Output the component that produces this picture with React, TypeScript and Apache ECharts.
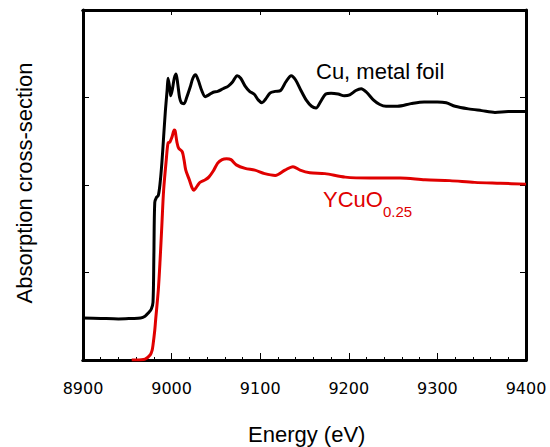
import React, { useEffect, useRef } from "react";
import * as echarts from "echarts";

const xTicks = [8900, 9000, 9100, 9200, 9300, 9400];

const cuEnergy = [8900, 8920, 8940, 8955, 8965, 8970, 8974, 8977, 8979, 8980, 8981, 8983, 8985, 8987, 8989, 8991, 8993, 8995, 8996, 8998, 8999, 9001, 9003, 9005, 9007, 9009, 9011, 9014, 9017, 9021, 9024, 9027, 9030, 9034, 9038, 9042, 9047, 9052, 9058, 9064, 9069, 9074, 9078, 9083, 9088, 9093, 9098, 9102, 9106, 9111, 9117, 9123, 9129, 9135, 9140, 9146, 9152, 9158, 9163, 9168, 9174, 9180, 9188, 9195, 9201, 9208, 9214, 9220, 9228, 9235, 9242, 9255, 9270, 9285, 9300, 9310, 9320, 9335, 9350, 9365, 9380, 9400];
const cuValue = [0.48, 0.475, 0.47, 0.475, 0.48, 0.5, 0.54, 0.58, 0.66, 1.2, 1.8, 1.86, 1.88, 2.02, 2.25, 2.55, 2.85, 3.09, 3.22, 3.1, 3.02, 3.1, 3.22, 3.27, 3.15, 3.0, 2.94, 2.93, 3.0, 3.12, 3.22, 3.26, 3.2, 3.08, 3.01, 3.03, 3.06, 3.07, 3.1, 3.13, 3.18, 3.25, 3.22, 3.13, 3.07, 3.04, 2.97, 2.94, 2.98, 3.05, 3.07, 3.08, 3.18, 3.25, 3.2, 3.08, 2.97, 2.9, 2.88, 2.95, 3.04, 3.05, 3.04, 3.02, 3.03, 3.08, 3.1, 3.06, 2.97, 2.92, 2.9, 2.9, 2.93, 2.95, 2.95, 2.94, 2.9, 2.87, 2.85, 2.83, 2.84, 2.84];

const ycuoEnergy = [8955, 8960, 8970, 8976, 8978, 8979, 8981, 8982, 8985, 8987, 8989, 8991, 8994, 8996, 8998, 9000.5, 9003, 9004, 9006, 9008, 9012, 9014, 9016, 9020, 9023, 9025, 9029, 9032, 9038, 9042, 9047, 9052, 9057, 9062, 9067, 9073, 9083, 9094, 9105, 9117, 9128, 9137, 9145, 9156, 9173, 9196, 9224, 9258, 9286, 9314, 9342, 9371, 9400];
const ycuoValue = [0.0, 0.0, 0.01, 0.06, 0.11, 0.17, 0.34, 0.46, 0.8, 1.14, 1.54, 1.94, 2.29, 2.48, 2.49, 2.55, 2.63, 2.62, 2.49, 2.42, 2.38, 2.29, 2.17, 2.06, 1.97, 1.94, 1.99, 2.03, 2.06, 2.09, 2.16, 2.25, 2.29, 2.3, 2.29, 2.23, 2.19, 2.17, 2.13, 2.11, 2.17, 2.21, 2.17, 2.14, 2.13, 2.09, 2.08, 2.08, 2.06, 2.05, 2.03, 2.02, 2.01];

const RED = "#e00000";
const LABEL_FONT = "'Liberation Sans', Arial, Helvetica, sans-serif";

export default function App() {
  const ref = useRef<HTMLDivElement>(null);
  useEffect(() => {
    document.body.style.margin = "0";
    if (!ref.current) return;
    const chart = echarts.init(ref.current, undefined, { renderer: "svg" });
    const axisLine = { show: true, onZero: false, lineStyle: { color: "#000", width: 3 } };
    const xBase = {
      type: "value" as const,
      min: xTicks[0],
      max: xTicks[xTicks.length - 1],
      axisLine,
      splitLine: { show: false },
    };
    const tick = (len: number) => ({ show: true, inside: true, length: len, lineStyle: { color: "#000", width: 1 } });
    const yCommon = {
      type: "value" as const,
      min: 0,
      max: 4,
      interval: 1,
      axisLine,
      axisTick: tick(6),
      axisLabel: { show: false },
      splitLine: { show: false },
    };
    chart.setOption({
      animation: false,
      backgroundColor: "#fff",
      grid: { left: 83, right: 24, top: 10, bottom: 87, containLabel: false },
      xAxis: [
        {
          ...xBase,
          position: "bottom",
          interval: 100,
          axisTick: tick(7),
          axisLabel: {
            show: true,
            margin: 20,
            color: "#000",
            fontSize: 16,
            fontFamily: "'DejaVu Sans', sans-serif",
            formatter: (v: number) => String(v),
          },
        },
        {
          ...xBase,
          position: "bottom",
          interval: 20,
          axisTick: tick(3),
          axisLabel: { show: false },
        },
        {
          ...xBase,
          position: "top",
          interval: 100,
          axisTick: tick(5),
          axisLabel: { show: false },
        },
        {
          ...xBase,
          position: "top",
          interval: 20,
          axisTick: tick(2),
          axisLabel: { show: false },
        },
      ],
      yAxis: [
        { ...yCommon, position: "left" },
        { ...yCommon, position: "right" },
      ],
      series: [
        {
          type: "line",
          xAxisIndex: 0,
          yAxisIndex: 0,
          data: cuEnergy.map((e, i) => [e, cuValue[i]]),
          showSymbol: false,
          smooth: 0.3,
          lineStyle: { color: "#000", width: 3 },
          z: 3,
        },
        {
          type: "line",
          xAxisIndex: 0,
          yAxisIndex: 0,
          data: ycuoEnergy.map((e, i) => [e, ycuoValue[i]]),
          showSymbol: false,
          smooth: 0.3,
          lineStyle: { color: RED, width: 3 },
          z: 2,
        },
      ],
      graphic: [
        {
          type: "text",
          left: 316,
          top: 60,
          style: { text: "Cu, metal foil", fill: "#000", font: `22px ${LABEL_FONT}` },
        },
        {
          type: "text",
          left: 323,
          top: 188,
          style: { text: "YCuO", fill: RED, font: `22px ${LABEL_FONT}` },
        },
        {
          type: "text",
          left: 383,
          top: 204,
          style: { text: "0.25", fill: RED, font: `15px ${LABEL_FONT}` },
        },
        {
          type: "text",
          left: 248,
          top: 423,
          style: { text: "Energy (eV)", fill: "#000", font: `22px ${LABEL_FONT}` },
        },
        {
          type: "text",
          x: 24,
          y: 183,
          rotation: Math.PI / 2,
          style: {
            text: "Absorption cross-section",
            fill: "#000",
            font: `22px ${LABEL_FONT}`,
            align: "center",
            verticalAlign: "middle",
          },
        },
      ],
    });
    return () => chart.dispose();
  }, []);
  return <div ref={ref} style={{ width: 550, height: 447 }} />;
}
